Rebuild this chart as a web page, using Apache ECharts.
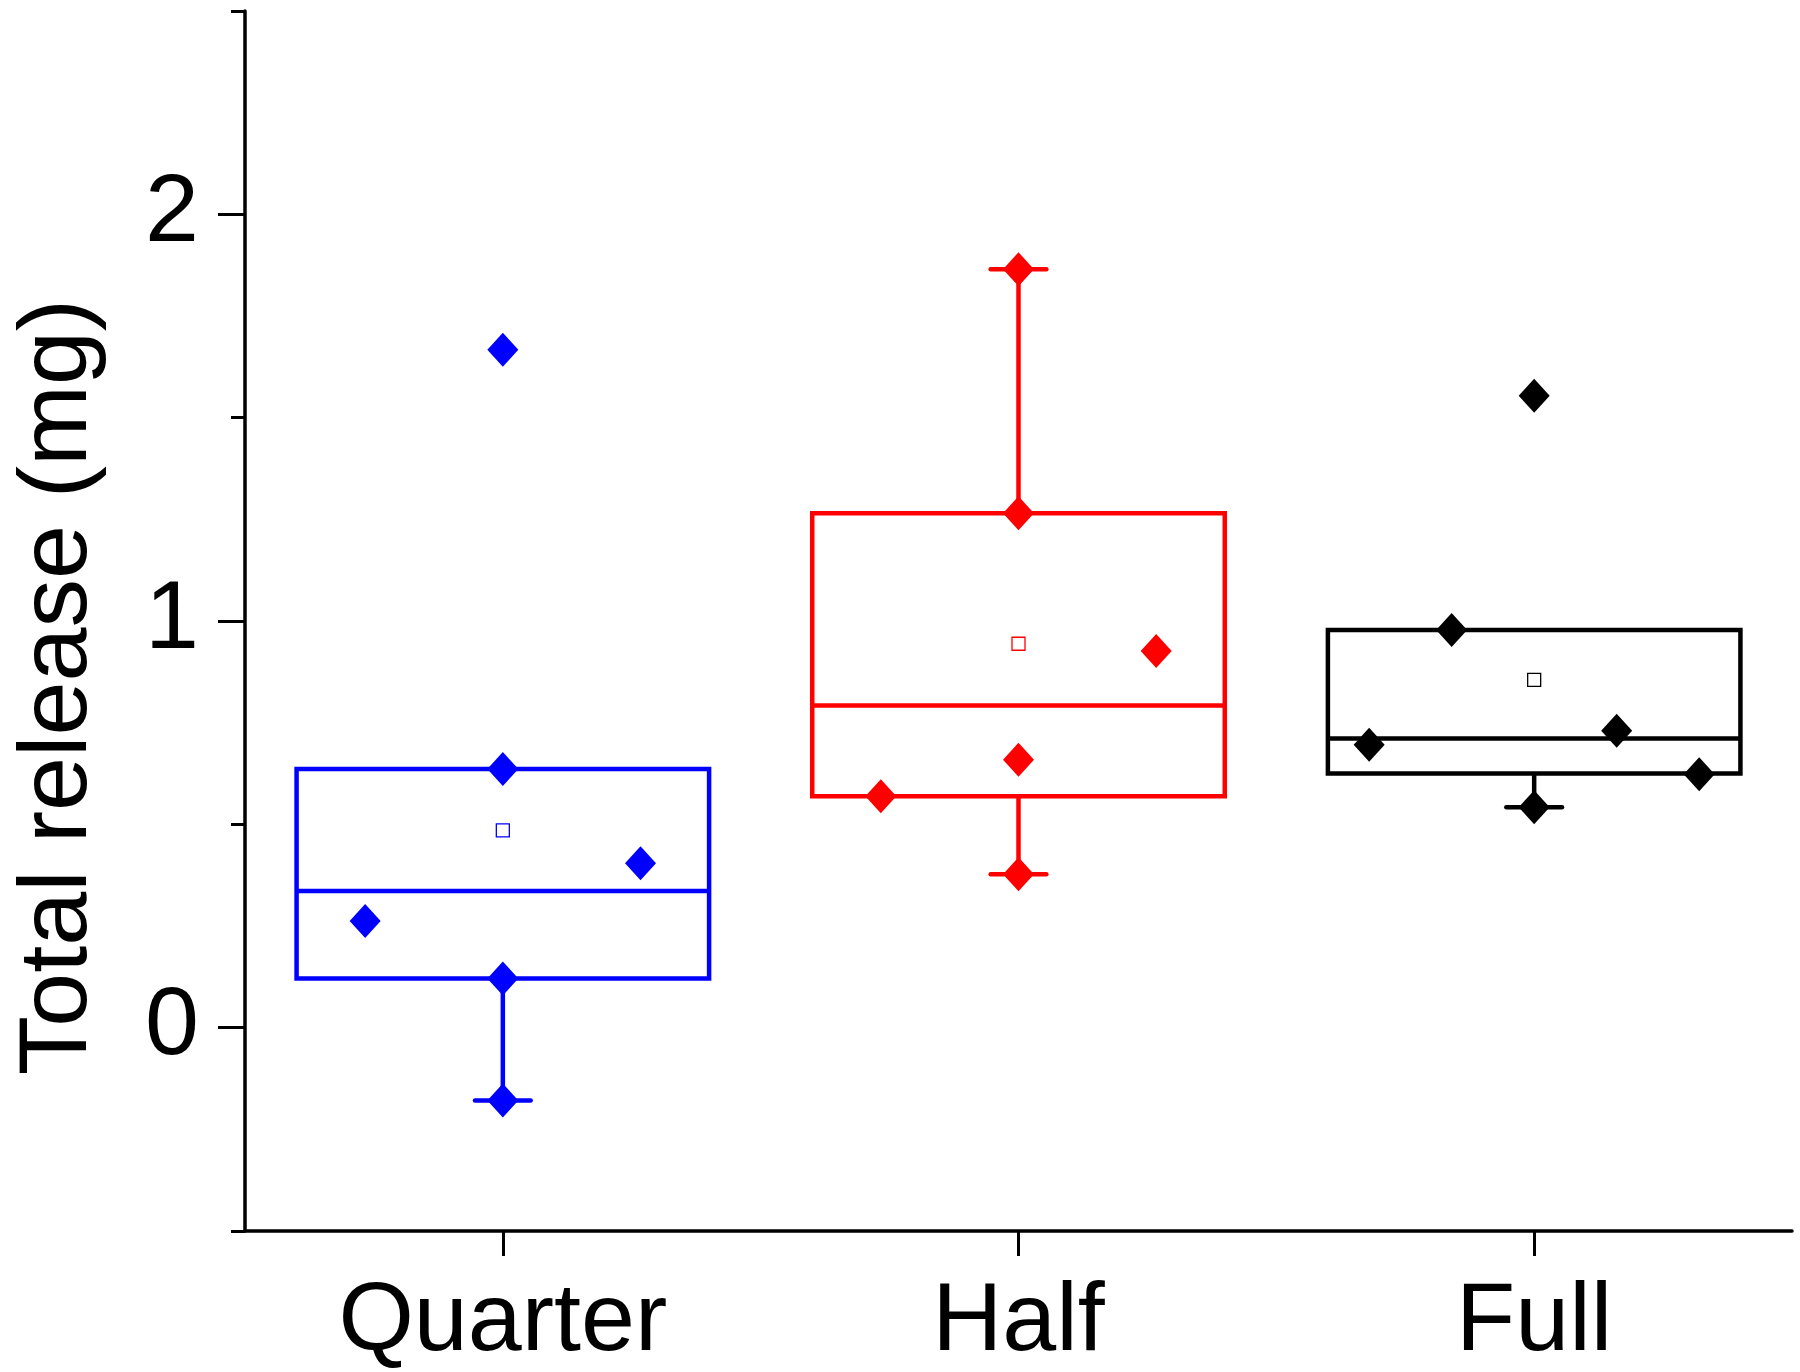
<!DOCTYPE html>
<html><head><meta charset="utf-8">
<script src="https://cdn.jsdelivr.net/npm/echarts@6/dist/echarts.min.js"></script>
<style>html,body{margin:0;padding:0;background:#fff}#c{width:1800px;height:1372px}</style>
</head><body><div id="c"></div>
<script>
// ---- data ----
const categories = ['Quarter', 'Half', 'Full'];
const yMajorTicks = [0, 1, 2];
const yMinorTicks = [-0.5, 0.5, 1.5, 2.5];

// box statistics per category
const whiskerLow  = [-0.179, 0.377, 0.542];
const quartile1   = [0.121, 0.569, 0.625];
const medians     = [0.336, 0.792, 0.711];
const quartile3   = [0.636, 1.265, 0.978];
const whiskerHigh = [0.636, 1.865, 0.978];
const means       = [0.485, 0.944, 0.855];

// individual data points and their horizontal jitter (in category units)
const quarterValues = [1.667, 0.636, 0.404, 0.262, 0.121, -0.179];
const quarterJitter = [0, 0, 0.267, -0.267, 0, 0];
const halfValues    = [1.865, 1.265, 0.926, 0.659, 0.569, 0.377];
const halfJitter    = [0, 0, 0.267, 0, -0.267, 0];
const fullValues    = [1.554, 0.978, 0.730, 0.696, 0.623, 0.542];
const fullJitter    = [0, -0.16, 0.16, -0.32, 0.32, 0];

const groupColors = ['#0000FF', '#FF0000', '#000000'];
const FONT = '"Liberation Sans", Arial, Helvetica, sans-serif';

const pointSets = [
  [quarterValues, quarterJitter],
  [halfValues, halfJitter],
  [fullValues, fullJitter]
];

const boxData = categories.map((c, i) =>
  [i, whiskerLow[i], quartile1[i], medians[i], quartile3[i], whiskerHigh[i]]);

const chart = echarts.init(document.getElementById('c'), null, {renderer: 'canvas'});

const series = [{
  type: 'custom',
  xAxisIndex: 1,
  yAxisIndex: 0,
  z: 2,
  encode: {x: 0, y: [1, 2, 3, 4, 5]},
  data: boxData,
  renderItem: function (params, api) {
    const i = api.value(0);
    const lo = api.value(1), a = api.value(2), m = api.value(3), b = api.value(4), hi = api.value(5);
    const color = groupColors[i];
    const xL = api.coord([i - 0.4, 0])[0];
    const xR = api.coord([i + 0.4, 0])[0];
    const xC = api.coord([i, 0])[0];
    const capHalf = api.size([0.054, 0])[0];
    const yLo = api.coord([i, lo])[1];
    const yA = api.coord([i, a])[1];
    const yM = api.coord([i, m])[1];
    const yB = api.coord([i, b])[1];
    const yHi = api.coord([i, hi])[1];
    const st = {stroke: color, lineWidth: 4.5, fill: 'none'};
    const children = [
      {type: 'rect', shape: {x: xL, y: yB, width: xR - xL, height: yA - yB}, style: st},
      {type: 'line', shape: {x1: xL, y1: yM, x2: xR, y2: yM}, style: st}
    ];
    if (Math.abs(yLo - yA) > 0.5) {
      children.push({type: 'line', shape: {x1: xC, y1: yA, x2: xC, y2: yLo}, style: st});
      children.push({type: 'line', shape: {x1: xC - capHalf, y1: yLo, x2: xC + capHalf, y2: yLo}, style: Object.assign({lineCap: 'round'}, st)});
    }
    if (Math.abs(yHi - yB) > 0.5) {
      children.push({type: 'line', shape: {x1: xC, y1: yB, x2: xC, y2: yHi}, style: st});
      children.push({type: 'line', shape: {x1: xC - capHalf, y1: yHi, x2: xC + capHalf, y2: yHi}, style: Object.assign({lineCap: 'round'}, st)});
    }
    return {type: 'group', children: children};
  }
}];

pointSets.forEach(([vals, jit], i) => {
  series.push({
    type: 'scatter',
    xAxisIndex: 1,
    yAxisIndex: 0,
    z: 4,
    symbol: 'diamond',
    symbolSize: [31, 34],
    itemStyle: {color: groupColors[i], opacity: 1},
    data: vals.map((v, k) => [i + jit[k], v]),
    silent: true
  });
});

series.push({
  type: 'scatter',
  xAxisIndex: 1,
  yAxisIndex: 0,
  z: 5,
  symbol: 'rect',
  symbolSize: 13,
  data: means.map((v, i) => ({
    value: [i, v],
    itemStyle: {color: '#ffffff', borderColor: groupColors[i], borderWidth: 1.3, opacity: 1}
  })),
  silent: true
});

chart.setOption({
  animation: false,
  backgroundColor: '#ffffff',
  grid: {left: 245, right: 8, top: 11, bottom: 138, containLabel: false},
  xAxis: [{
    type: 'category',
    data: categories,
    boundaryGap: true,
    axisLine: {show: true, onZero: false, lineStyle: {color: '#000', width: 3.5}},
    axisTick: {show: true, alignWithLabel: true, length: 25, lineStyle: {color: '#000', width: 3}},
    axisLabel: {color: '#000', fontSize: 97, fontFamily: FONT, margin: 44},
    splitLine: {show: false}
  }, {
    type: 'value',
    min: -0.5,
    max: 2.5,
    show: false,
    axisLine: {onZero: false},
    splitLine: {show: false}
  }],
  yAxis: [{
    type: 'value',
    min: -0.5,
    max: 2.5,
    interval: 0.5,
    name: 'Total release (mg)',
    nameLocation: 'middle',
    nameGap: 137,
    nameRotate: 90,
    nameTextStyle: {color: '#000', fontSize: 97, fontFamily: FONT, padding: [0, 132, 0, 0]},
    axisLine: {show: true, onZero: false, lineStyle: {color: '#000', width: 3.5}},
    axisTick: {show: true, length: 27, customValues: yMajorTicks, lineStyle: {color: '#000', width: 3}},
    axisLabel: {color: '#000', fontSize: 97, fontFamily: FONT, margin: 46, customValues: yMajorTicks},
    splitLine: {show: false}
  }, {
    type: 'value',
    min: -0.5,
    max: 2.5,
    interval: 0.5,
    position: 'left',
    axisLine: {show: false, onZero: false},
    axisTick: {show: true, length: 14, customValues: yMinorTicks, lineStyle: {color: '#000', width: 3}},
    axisLabel: {show: false},
    splitLine: {show: false}
  }],
  series: series
});
</script>
</body></html>
